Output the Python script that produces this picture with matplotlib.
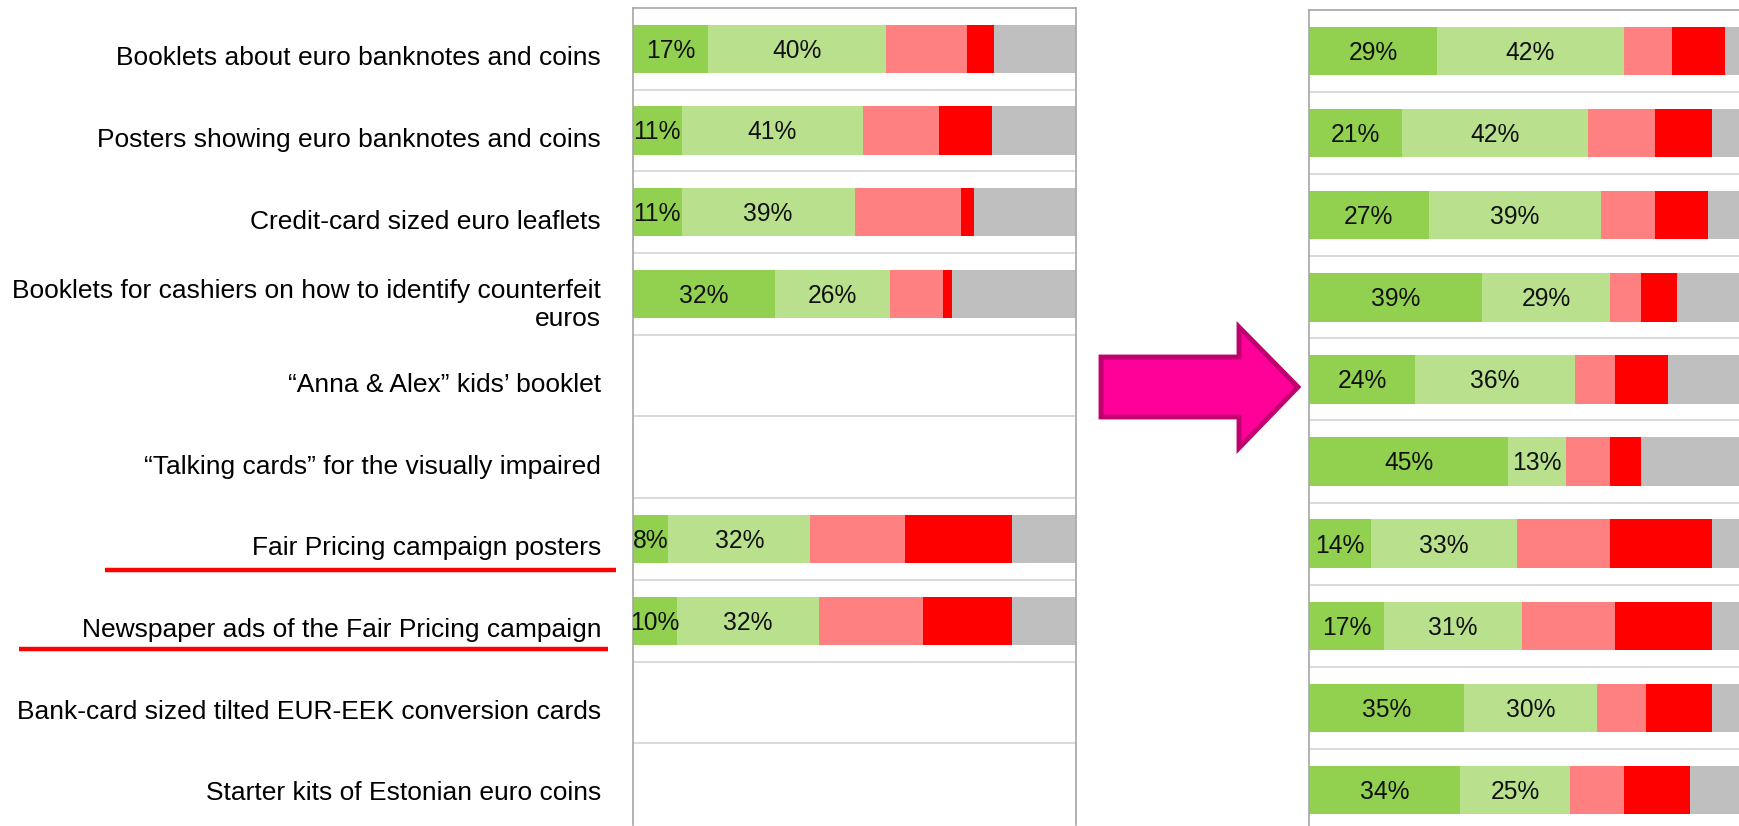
import matplotlib
matplotlib.use("Agg")
import matplotlib.pyplot as plt
from matplotlib.patches import Polygon
from matplotlib.lines import Line2D
from matplotlib.transforms import blended_transform_factory

plt.rcParams['font.family'] = ['Liberation Sans', 'DejaVu Sans']

categories = [
    "Booklets about euro banknotes and coins",
    "Posters showing euro banknotes and coins",
    "Credit-card sized euro leaflets",
    "Booklets for cashiers on how to identify counterfeit\neuros",
    "\u201cAnna & Alex\u201d kids\u2019 booklet",
    "\u201cTalking cards\u201d for the visually impaired",
    "Fair Pricing campaign posters",
    "Newspaper ads of the Fair Pricing campaign",
    "Bank-card sized tilted EUR-EEK conversion cards",
    "Starter kits of Estonian euro coins",
]
colors = ['#92D050', '#B9E08D', '#FF8080', '#FF0000', '#BFBFBF']

# before (left panel); None = not asked
before_very = [17, 11, 11, 32, None, None, 8, 10, None, None]
before_good = [40, 41, 39, 26, None, None, 32, 32, None, None]
before_notvery = [18.5, 17, 24, 12, None, None, 21.5, 23.5, None, None]
before_notatall = [6, 12, 3, 2, None, None, 24, 20, None, None]
before_dk = [18.5, 19, 23, 28, None, None, 14.5, 14.5, None, None]

# after (right panel)
after_very = [29, 21, 27, 39, 24, 45, 14, 17, 35, 34]
after_good = [42, 42, 39, 29, 36, 13, 33, 31, 30, 25]
after_notvery = [11, 15, 12, 7, 9, 10, 21, 21, 11, 12]
after_notatall = [12, 13, 12, 8, 12, 7, 23, 22, 15, 15]
after_dk = [6, 9, 10, 17, 19, 25, 9, 9, 9, 14]

W, H = 1739, 826
fig = plt.figure(figsize=(W / 100, H / 100), dpi=100)
fig.patch.set_facecolor('white')


def panel(rect, series):
    ax = fig.add_axes(rect)
    ax.set_xlim(0, 100)
    ax.set_ylim(9.5, -0.5)
    ax.set_xticks([])
    ax.set_yticks([])
    for s in ['left', 'top', 'right']:
        ax.spines[s].set_color('#A6A6A6')
        ax.spines[s].set_linewidth(1.2)
    ax.spines['bottom'].set_visible(False)
    for k in range(9):
        ax.axhline(k + 0.5, color='#D0D0D0', lw=1.1, zorder=0.5)
    for i in range(len(categories)):
        if series[0][i] is None:
            continue
        cum = 0
        for j, s in enumerate(series):
            v = s[i]
            ax.barh(i, v, left=cum, height=0.59, color=colors[j], linewidth=0, zorder=2)
            if j < 2:
                ax.text(cum + v / 2, i + 0.108, f"{v:.0f}%", ha='center', va='baseline',
                        fontsize=17.7, color='#111111', zorder=3, clip_on=True)
            cum += v
    return ax


ax_l = panel([633 / W, 1 - 825 / H, 443 / W, 817 / H],
             [before_very, before_good, before_notvery, before_notatall, before_dk])
ax_r = panel([1309 / W, 1 - 831 / H, 443 / W, 821 / H],
             [after_very, after_good, after_notvery, after_notatall, after_dk])

# category labels (baseline of last line is what 'baseline' aligns to)
trans = blended_transform_factory(fig.transFigure, ax_l.transData)
for i, lab in enumerate(categories):
    nl = lab.count('\n')
    off = 0.20 if nl == 0 else 0.39
    ax_l.text(601 / W, i + off, lab, transform=trans, ha='right', va='baseline',
              fontsize=19, multialignment='right', color='#000000')

# red underlines under the Fair Pricing rows
for x0, x1, y in [(105, 616, 570), (19, 608, 649)]:
    fig.add_artist(Line2D([x0 / W, x1 / W], [1 - y / H, 1 - y / H], color='#FF0000',
                          lw=3.2, transform=fig.transFigure, solid_capstyle='butt'))

# arrow between panels
pts = [(1101, 357), (1239, 357), (1239, 327), (1298, 387), (1239, 448), (1239, 417), (1101, 417)]
fig.add_artist(Polygon([(x / W, 1 - y / H) for x, y in pts], closed=True,
                       facecolor='#FF0099', edgecolor='#C0006E', lw=3.5,
                       joinstyle='miter', transform=fig.transFigure))

fig.savefig('out.png', dpi=100)
